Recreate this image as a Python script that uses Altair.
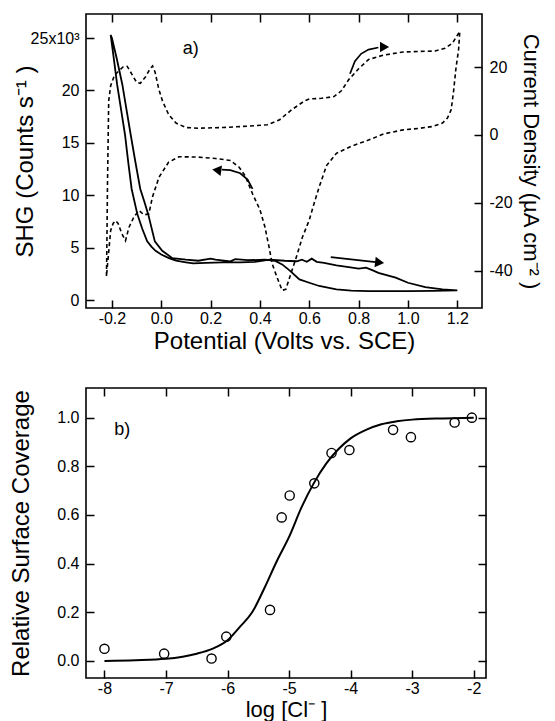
import altair as alt
import pandas as pd

FONT = "Liberation Sans"

# ---------------- panel a) data ----------------
# SHG signal (left axis, counts/s in units of 10^3), forward then reverse scan
shg_v = [-0.205, -0.192, -0.179, -0.163, -0.147, -0.133, -0.12, -0.097, -0.077, -0.057,
         -0.04, -0.023, 0.0, 0.031, 0.06, 0.1, 0.13, 0.18, 0.25, 0.32, 0.38, 0.44, 0.5,
         0.55, 0.57, 0.59, 0.61, 0.63, 0.66, 0.71, 0.76, 0.80, 0.83, 0.86, 0.88, 0.95,
         1.0, 1.07, 1.14, 1.2,
         1.1, 1.0, 0.9, 0.84, 0.77, 0.71, 0.64, 0.6, 0.56, 0.52, 0.49, 0.46, 0.42, 0.35,
         0.3, 0.28, 0.22, 0.2, 0.15, 0.1, 0.045, 0.004, -0.026, -0.053, -0.07, -0.085,
         -0.105, -0.124, -0.141, -0.158, -0.18, -0.2, -0.205]
shg_c = [25.3, 23.0, 20.6, 18.2, 15.8, 13.0, 10.6, 8.2, 6.8, 5.6,
         5.1, 4.7, 4.35, 4.0, 3.75, 3.6, 3.5, 3.55, 3.6, 3.6, 3.65, 3.85, 3.75,
         3.7, 3.85, 3.65, 3.95, 3.65, 3.55, 3.3, 3.15, 3.0, 3.1, 2.8, 2.6, 2.13,
         1.65, 1.24, 1.02, 0.93,
         0.88, 0.85, 0.85, 0.86, 0.9, 1.02, 1.34, 1.65, 1.97, 2.83, 3.4, 3.75, 3.85, 3.8,
         3.9, 3.7, 3.85, 3.95, 3.75, 3.85, 4.0, 4.7, 5.6, 8.2, 9.5, 10.6,
         13.2, 15.8, 18.2, 20.6, 23.0, 25.0, 25.3]

# cyclic voltammogram (right axis, uA cm^-2)
cv_v = [-0.222, -0.22, -0.218, -0.215, -0.213, -0.205, -0.19, -0.17, -0.155, -0.138,
        -0.12, -0.1, -0.085, -0.065, -0.045, -0.035, -0.025, -0.01, 0.005, 0.03, 0.06,
        0.1, 0.15, 0.25, 0.35, 0.43, 0.48, 0.53, 0.58, 0.6, 0.65, 0.7, 0.73, 0.76, 0.8,
        0.84, 0.9, 0.98, 1.05, 1.11, 1.15, 1.18, 1.21,
        1.205, 1.195, 1.185, 1.175, 1.16, 1.14, 1.1, 1.05, 0.98, 0.9, 0.84, 0.77, 0.71,
        0.67, 0.64, 0.62, 0.6, 0.572, 0.545, 0.52, 0.505, 0.49, 0.47, 0.45, 0.437, 0.42,
        0.4, 0.37, 0.34, 0.315, 0.28, 0.22, 0.15, 0.072, 0.03, -0.009, -0.036, -0.05,
        -0.07, -0.09, -0.11, -0.131, -0.145, -0.16, -0.175, -0.185, -0.195, -0.205,
        -0.215, -0.222]
cv_j = [-41.5, -30, -15, 0, 10, 14.5, 17.5, 19, 20, 20.2,
        18, 15.5, 15.2, 17, 19.5, 20.3, 18.5, 13.5, 10, 6, 3.5,
        2.2, 2.0, 2.2, 2.6, 3.0, 4.5, 7.5, 10.0, 10.6, 10.8, 11.3, 13, 16.3, 19.5,
        22.2, 23.5, 24.4, 24.6, 24.7, 25.5, 27, 30.5,
        25, 20, 13, 7.4, 5, 3.5, 2.5, 2.0, 1.5, 0.3, -1.5, -3.3, -5.4,
        -9, -15.3, -20, -25, -30.1, -36.5, -42, -45.4, -45.7, -42, -38, -33, -27,
        -22, -17.3, -12, -9.4, -7.5, -6.9, -6.5, -6.4, -8, -12.4, -18.3, -23.2,
        -23.5, -22.2, -24, -27.2, -31.1, -29, -26, -25.2, -26, -28.1,
        -36, -41.5]

# annotation arrows (in SHG axis units)
arrow_id = ["up", "up", "up", "up", "up",
            "left", "left", "left", "left", "left",
            "right", "right"]
arrow_v = [0.765, 0.785, 0.81, 0.84, 0.88,
           0.37, 0.35, 0.32, 0.28, 0.245,
           0.687, 0.87]
arrow_c = [21.6, 22.8, 23.5, 23.9, 24.1,
           10.6, 11.5, 12.1, 12.4, 12.45,
           4.1, 3.62]
head_v = [0.905, 0.225, 0.885]
head_c = [24.15, 12.4, 3.58]
head_shape = ["triangle-right", "triangle-left", "triangle-right"]
head_angle = [0, 8, 7]

# ---------------- panel b) data ----------------
pt_x = [-8.0, -7.03, -6.26, -6.02, -5.31, -5.12, -4.99, -4.59, -4.31, -4.02, -3.31, -3.02, -2.31, -2.03]
pt_y = [0.05, 0.03, 0.01, 0.10, 0.21, 0.59, 0.68, 0.73, 0.855, 0.867, 0.95, 0.92, 0.98, 1.0]

fit_x = [-8, -7.5, -7, -6.5, -6.25, -6, -5.8, -5.6, -5.4, -5.2, -5.0, -4.8, -4.6, -4.4,
         -4.2, -4.0, -3.75, -3.5, -3.25, -3.0, -2.5, -2.0]
fit_y = [0.0, 0.003, 0.009, 0.03, 0.05, 0.085, 0.14, 0.2, 0.3, 0.41, 0.51, 0.63, 0.73, 0.81,
         0.87, 0.915, 0.95, 0.973, 0.985, 0.992, 0.997, 1.0]

top_x_ticks = [-0.2, 0.0, 0.2, 0.4, 0.6, 0.8, 1.0, 1.2]
shg_ticks = [0, 5, 10, 15, 20, 25]
j_ticks = [-40, -20, 0, 20]
bot_x_ticks = [-8, -7, -6, -5, -4, -3, -2]
bot_y_ticks = [0.0, 0.2, 0.4, 0.6, 0.8, 1.0]

# ---------------- build ----------------
shg_df = pd.DataFrame({"V": shg_v, "S": shg_c, "i": range(len(shg_v))})
cv_df = pd.DataFrame({"V": cv_v, "J": cv_j, "i": range(len(cv_v))})
arr_df = pd.DataFrame({"V": arrow_v, "S": arrow_c, "id": arrow_id, "i": range(len(arrow_v))})
head_df = pd.DataFrame({"V": head_v, "S": head_c, "shape": head_shape, "ang": head_angle})
pts_df = pd.DataFrame({"x": pt_x, "y": pt_y})
fit_df = pd.DataFrame({"x": fit_x, "y": fit_y})

xs_top = alt.Scale(domain=[-0.305, 1.30], nice=False, zero=False)
ys_shg = alt.Scale(domain=[-0.76, 27.3], nice=False, zero=False)
ys_j = alt.Scale(domain=[-50.9, 35.6], nice=False, zero=False)

neg_fmt1 = "(datum.value < 0 ? '-' : '') + format(abs(datum.value), '.1f')"
neg_fmt0 = "(datum.value < 0 ? '-' : '') + format(abs(datum.value), 'd')"

common_ax = dict(domain=False, grid=False, tickSize=8, offset=-8, tickWidth=1.5,
                 tickColor="black", labelColor="black", titleColor="black",
                 labelFont=FONT, titleFont=FONT, labelFontSize=16, titleFontSize=24,
                 titleFontWeight="normal")

x_bottom_a = alt.Axis(orient="bottom", values=top_x_ticks, labelExpr=neg_fmt1,
                      title="Potential (Volts vs. SCE)", labelPadding=2, titlePadding=3,
                      **common_ax)
x_top_a = alt.Axis(orient="top", values=top_x_ticks, labels=False, title=None, **common_ax)
y_left_a = alt.Axis(orient="left", values=shg_ticks,
                    labelExpr="datum.value == 25 ? '25x10\u00b3' : datum.label",
                    title="SHG (Counts s\u207b\u00b9 )", labelPadding=7, titleX=-57,
                    **common_ax)
ax_right = dict(common_ax)
ax_right["titleFontSize"] = 22
y_right_a = alt.Axis(orient="right", values=j_ticks, labelExpr=neg_fmt0,
                     title="Current Density (\u00b5A cm\u207b\u00b2 )", labelPadding=7,
                     titlePadding=6, **ax_right)

shg_line = alt.Chart(shg_df).mark_line(color="black", strokeWidth=1.8).encode(
    x=alt.X("V:Q", scale=xs_top, axis=x_bottom_a),
    y=alt.Y("S:Q", scale=ys_shg, axis=y_left_a),
    order="i:Q",
)
cv_line = alt.Chart(cv_df).mark_line(color="black", strokeWidth=1.6, strokeDash=[4, 3]).encode(
    x=alt.X("V:Q", scale=xs_top, axis=x_top_a),
    y=alt.Y("J:Q", scale=ys_j, axis=y_right_a),
    order="i:Q",
)
arrows = alt.Chart(arr_df).mark_line(color="black", strokeWidth=1.7).encode(
    x=alt.X("V:Q", scale=xs_top, axis=None),
    y=alt.Y("S:Q", scale=ys_shg, axis=None),
    detail="id:N",
    order="i:Q",
)
heads = alt.Chart(head_df).mark_point(filled=True, color="black", size=110, opacity=1).encode(
    x=alt.X("V:Q", scale=xs_top, axis=None),
    y=alt.Y("S:Q", scale=ys_shg, axis=None),
    shape=alt.Shape("shape:N", scale=None, legend=None),
    angle=alt.Angle("ang:Q", scale=None),
)
label_a = alt.Chart(pd.DataFrame({"V": [0.12], "S": [24.0], "t": ["a)"]})).mark_text(
    font=FONT, fontSize=18, color="black").encode(
    x=alt.X("V:Q", scale=xs_top, axis=None),
    y=alt.Y("S:Q", scale=ys_shg, axis=None),
    text="t:N",
)

panel_a = alt.layer(shg_line, cv_line, arrows, heads, label_a).resolve_scale(
    y="independent").resolve_axis(x="independent", y="independent").properties(
    width=396, height=294)

xs_b = alt.Scale(domain=[-8.3, -1.8], nice=False, zero=False)
ys_b = alt.Scale(domain=[-0.07, 1.122], nice=False, zero=False)

ax_bottom_b = dict(common_ax)
ax_bottom_b["titleFontSize"] = 22
x_bottom_b = alt.Axis(orient="bottom", values=bot_x_ticks, labelExpr=neg_fmt0,
                      title="log [Cl\u207b ]", labelPadding=2, titlePadding=3, **ax_bottom_b)
x_top_b = alt.Axis(orient="top", values=bot_x_ticks, labels=False, title=None, **common_ax)
y_left_b = alt.Axis(orient="left", values=bot_y_ticks, format=".1f",
                    title="Relative Surface Coverage", labelPadding=7, titlePadding=23,
                    **common_ax)
y_right_b = alt.Axis(orient="right", values=bot_y_ticks, labels=False, title=None, **common_ax)

fit_line = alt.Chart(fit_df).mark_line(color="black", strokeWidth=2, interpolate="monotone").encode(
    x=alt.X("x:Q", scale=xs_b, axis=x_bottom_b),
    y=alt.Y("y:Q", scale=ys_b, axis=y_left_b),
)
points = alt.Chart(pts_df).mark_point(shape="circle", filled=False, color="black", size=85,
                                      strokeWidth=1.4, opacity=1).encode(
    x=alt.X("x:Q", scale=xs_b, axis=x_top_b),
    y=alt.Y("y:Q", scale=ys_b, axis=y_right_b),
)
label_b = alt.Chart(pd.DataFrame({"x": [-7.71], "y": [0.95], "t": ["b)"]})).mark_text(
    font=FONT, fontSize=18, color="black").encode(
    x=alt.X("x:Q", scale=xs_b, axis=None),
    y=alt.Y("y:Q", scale=ys_b, axis=None),
    text="t:N",
)

panel_b = alt.layer(fit_line, points, label_b).resolve_axis(
    x="independent", y="independent").properties(width=400, height=290)

chart = alt.vconcat(panel_a, panel_b, spacing=32).properties(
    padding={"left": 8, "top": 12, "right": 0, "bottom": 0},
    background="white",
).configure_view(stroke="black", strokeWidth=1.6)

chart.save("out.html", embed_options={"renderer": "svg", "actions": False})
